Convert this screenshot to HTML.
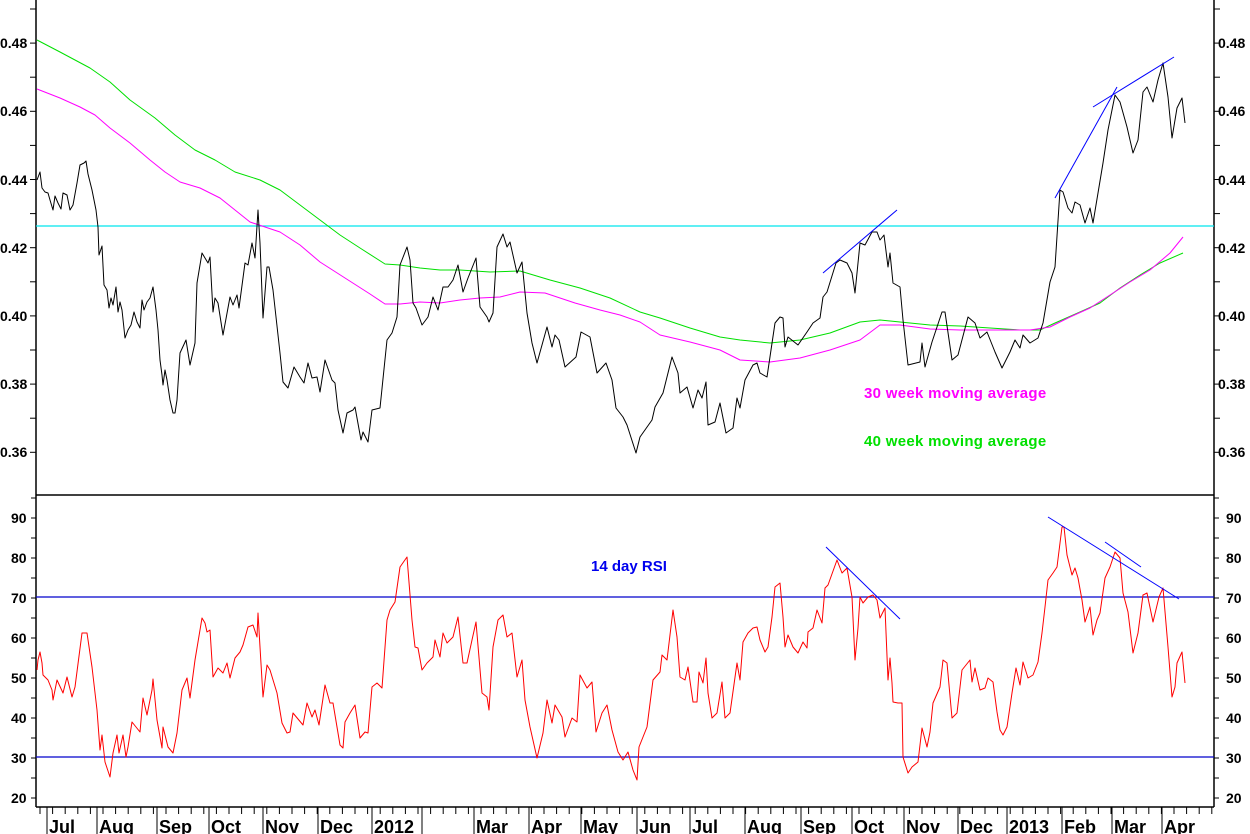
<!DOCTYPE html>
<html><head><meta charset="utf-8"><style>
html,body{margin:0;padding:0;background:#fff;}
svg{display:block;}
text{font-family:"Liberation Sans",Arial,sans-serif;font-weight:bold;}
</style></head><body>
<svg id="s" width="1250" height="834" viewBox="0 0 1250 834" xmlns="http://www.w3.org/2000/svg">
<rect width="1250" height="834" fill="#fff"/>
<g id="g"></g>
</svg>
<script>
const NS="http://www.w3.org/2000/svg";const g=document.getElementById('g');
function el(t,a,txt){const e=document.createElementNS(NS,t);for(const k in a)e.setAttribute(k,a[k]);if(txt!==undefined)e.textContent=txt;g.appendChild(e);return e;}
function line(x1,y1,x2,y2,c,w){el('line',{x1,y1,x2,y2,stroke:c,'stroke-width':w||1});}
function pl(pts,c,w){el('polyline',{points:pts.map(p=>p.join(',')).join(' '),fill:'none',stroke:c,'stroke-width':w||1,'stroke-linejoin':'round'});}
line(36,0,36,807,'#000',1.5);line(1214,0,1214,807,'#000',1.5);
line(36,495,1214,495,'#000',1.5);line(36,807,1214,807,'#000',1.5);
const tl=[[0.48,43],[0.46,111],[0.44,180],[0.42,248],[0.40,316],[0.38,384],[0.36,452]];
for(let v=0;v<14;v++){const y=9+v*34.1;if(y>492)break;line(30,y,36,y,'#000');line(1214,y,1220,y,'#000');}
tl.forEach(([v,y])=>{el('text',{x:0,y:y+5,'font-size':14},v.toFixed(2));el('text',{x:1218,y:y+5,'font-size':14},v.toFixed(2));});
for(let v=20;v<=95;v+=5){const y=798-(v-20)*4;line(31,y,36,y,'#000');line(1214,y,1219,y,'#000');}
for(let v=20;v<=90;v+=10){const y=798-(v-20)*4;el('text',{x:11,y:y+5,'font-size':14},v);el('text',{x:1226,y:y+5,'font-size':14},v);}
const months=[[47,'Jul'],[97,'Aug'],[157,'Sep'],[209,'Oct'],[263,'Nov'],[318,'Dec'],[372,'2012'],[422,''],[474,'Mar'],[529,'Apr'],[581,'May'],[637,'Jun'],[690,'Jul'],[745,'Aug'],[801,'Sep'],[852,'Oct'],[904,'Nov'],[958,'Dec'],[1007,'2013'],[1062,'Feb'],[1112,'Mar'],[1162,'Apr']];
for(let x=40;x<1214;x+=12.6){line(x,807,x,814,'#000');}
months.forEach(([x,t])=>{line(x,807,x,834,'#000');if(t)el('text',{x:x+2,y:833,'font-size':18},t);});
line(36,226,1214,226,'#00e5ee',1.2);
line(36,597,1214,597,'#0000cc',1.3);line(36,757,1214,757,'#0000cc',1.3);
pl([[37,40],[60,52],[90,68],[110,82],[130,100],[155,118],[175,135],[195,150],[215,160],[235,172],[260,180],[280,190],[300,205],[320,220],[340,235],[360,248],[385,264],[400,265],[420,268],[440,270],[460,270],[490,272],[520,271],[550,280],[580,288],[610,298],[640,312],[660,318],[690,328],[720,337],[740,340],[770,343],[800,340],[830,333],[860,322],[880,320],[900,322],[930,325],[960,326],[990,328],[1020,330],[1040,330],[1055,323],[1080,312],[1100,303],[1120,288],[1140,275],[1160,263],[1183,253]],'#00e000');
pl([[37,89],[60,98],[80,107],[95,115],[110,128],[130,143],[150,160],[165,172],[180,182],[200,188],[220,198],[235,210],[250,222],[262,226],[280,232],[300,245],[320,262],[345,278],[370,294],[385,304],[400,304],[420,302],[440,303],[460,300],[480,298],[500,297],[520,292],[545,293],[575,303],[600,310],[620,315],[640,322],[660,335],[690,342],[720,350],[740,360],[770,362],[800,358],[830,350],[860,340],[880,325],[900,325],[930,329],[960,330],[990,330],[1030,330],[1050,327],[1070,317],[1090,308],[1110,295],[1130,282],[1150,270],[1170,253],[1183,237]],'#ff00ff');
pl([[37,180],[40,172],[42,188],[45,192],[48,193],[50,200],[53,210],[55,196],[58,203],[61,209],[63,193],[67,195],[70,210],[73,205],[77,183],[80,165],[84,163],[86,161],[88,174],[92,190],[96,210],[98,227],[99,255],[102,246],[104,285],[107,290],[109,308],[111,298],[113,305],[116,287],[118,312],[120,302],[122,310],[125,338],[128,330],[131,325],[134,312],[137,322],[140,328],[142,300],[144,310],[147,302],[150,298],[153,287],[156,310],[158,330],[160,360],[162,375],[163,385],[165,370],[167,380],[170,400],[173,413],[175,413],[177,400],[180,353],[186,340],[190,365],[195,343],[197,283],[202,253],[208,263],[210,257],[213,312],[215,298],[218,303],[223,335],[230,297],[233,305],[237,295],[239,308],[245,263],[248,265],[252,243],[255,258],[258,210],[260,243],[263,318],[267,267],[269,267],[273,290],[280,353],[283,382],[288,388],[294,367],[300,377],[304,383],[308,363],[312,378],[317,377],[320,392],[325,360],[332,380],[335,383],[338,410],[343,433],[347,413],[353,410],[355,407],[361,440],[363,432],[368,442],[372,410],[380,408],[387,340],[392,333],[397,317],[400,265],[407,247],[410,260],[413,303],[416,308],[422,325],[428,317],[433,297],[438,310],[443,287],[448,287],[453,280],[458,265],[463,292],[468,278],[476,258],[480,307],[487,317],[489,322],[493,313],[497,247],[503,234],[507,247],[510,242],[517,273],[522,262],[527,313],[532,343],[537,363],[547,327],[552,347],[555,335],[559,340],[565,367],[576,357],[581,332],[590,337],[597,373],[606,363],[612,380],[616,408],[623,417],[627,425],[636,453],[640,437],[652,420],[655,407],[663,393],[672,357],[678,373],[680,393],[687,387],[693,408],[698,390],[702,398],[706,382],[708,425],[715,422],[720,403],[726,433],[733,428],[737,398],[740,408],[745,380],[753,365],[757,363],[760,373],[767,377],[775,323],[780,317],[783,318],[785,347],[788,337],[798,345],[807,332],[813,323],[820,318],[823,297],[827,292],[836,263],[840,260],[847,263],[852,273],[855,293],[860,243],[865,245],[872,232],[877,232],[880,240],[884,235],[888,267],[890,253],[893,283],[900,287],[903,320],[908,365],[920,362],[922,343],[925,367],[932,342],[942,312],[945,312],[952,360],[958,355],[968,317],[975,323],[980,338],[987,332],[995,352],[1002,368],[1010,352],[1015,340],[1020,348],[1023,335],[1030,343],[1038,338],[1043,323],[1050,282],[1055,267],[1060,190],[1063,192],[1068,208],[1072,213],[1075,202],[1080,205],[1085,223],[1090,208],[1093,223],[1098,193],[1103,163],[1108,130],[1115,95],[1120,102],[1127,127],[1133,153],[1138,140],[1143,92],[1147,87],[1153,102],[1158,80],[1163,63],[1168,97],[1172,138],[1177,108],[1182,98],[1185,123]],'#000');
line(823,273,897,210,'#0000ff');line(1055,198,1117,87,'#0000ff');line(1093,107,1174,57,'#0000ff');
pl([[37,670],[38,660],[40,652],[42,663],[43,675],[48,680],[52,690],[53,700],[57,680],[63,693],[67,677],[72,697],[75,687],[82,633],[87,633],[92,667],[97,710],[100,750],[102,735],[105,762],[110,777],[113,753],[117,735],[119,753],[123,735],[126,757],[128,747],[132,722],[140,732],[143,698],[147,715],[152,690],[153,679],[157,720],[162,748],[163,727],[168,747],[173,753],[177,733],[182,690],[187,678],[190,698],[195,660],[202,618],[205,623],[207,632],[210,630],[213,677],[218,668],[223,673],[227,663],[230,678],[235,658],[240,652],[243,645],[248,627],[253,625],[257,637],[258,613],[260,647],[263,697],[267,665],[270,670],[277,693],[282,723],[287,733],[290,732],[293,713],[303,725],[307,703],[312,717],[315,710],[319,725],[325,685],[330,703],[333,703],[340,745],[343,748],[345,722],[350,713],[355,705],[360,738],[365,732],[368,733],[372,687],[377,683],[382,688],[387,620],[390,610],[395,602],[400,567],[407,557],[412,620],[415,647],[418,648],[422,670],[427,663],[433,657],[435,640],[440,657],[443,633],[447,643],[453,637],[458,617],[463,663],[467,663],[472,640],[476,622],[482,693],[487,697],[489,710],[493,647],[498,620],[503,615],[507,637],[512,633],[517,677],[522,660],[525,700],[530,727],[537,758],[543,733],[547,700],[552,723],[555,705],[562,717],[565,737],[572,718],[577,722],[580,675],[587,688],[592,682],[596,732],[602,713],[607,705],[612,730],[618,752],[623,760],[628,752],[633,770],[637,780],[639,747],[647,727],[653,680],[660,672],[662,655],[667,660],[673,610],[677,637],[680,677],[685,680],[688,667],[693,702],[697,702],[699,672],[703,683],[706,658],[708,693],[712,718],[717,713],[722,682],[725,718],[730,713],[737,663],[740,680],[743,642],[748,633],[753,628],[757,627],[760,640],[765,652],[768,647],[772,617],[775,587],[780,583],[783,617],[785,647],[788,635],[793,647],[798,653],[803,642],[807,648],[808,632],[813,628],[817,610],[822,623],[825,588],[828,585],[837,560],[842,573],[847,568],[852,597],[855,660],[858,628],[860,597],[863,603],[868,597],[873,595],[877,600],[880,618],[885,608],[888,680],[890,658],[892,683],[893,702],[898,703],[902,703],[903,757],[908,773],[912,767],[918,762],[922,728],[927,747],[930,732],[933,703],[940,687],[943,660],[947,663],[952,718],[957,713],[962,670],[970,660],[972,682],[975,668],[980,690],[985,688],[988,678],[993,682],[997,712],[1000,730],[1003,735],[1007,727],[1012,693],[1016,668],[1020,685],[1023,662],[1028,678],[1033,675],[1038,662],[1042,633],[1045,607],[1048,580],[1053,573],[1057,567],[1062,527],[1064,527],[1067,555],[1072,575],[1075,568],[1078,578],[1082,600],[1085,622],[1090,607],[1093,635],[1097,620],[1100,613],[1105,578],[1110,567],[1115,552],[1120,558],[1123,593],[1128,612],[1133,653],[1138,633],[1143,595],[1147,593],[1153,622],[1159,597],[1163,588],[1168,647],[1172,697],[1175,687],[1177,663],[1182,652],[1185,683]],'#ff0000');
line(826,547,900,619,'#0000ff');line(1048,517,1179,599,'#0000ff');line(1105,542,1141,567,'#0000ff');
el('text',{x:864,y:398,'font-size':15,fill:'#ff00ff','letter-spacing':'0.3'},'30 week moving average');
el('text',{x:864,y:446,'font-size':15,fill:'#00e000','letter-spacing':'0.3'},'40 week moving average');
el('text',{x:591,y:571,'font-size':15,fill:'#0000ee'},'14 day RSI');
</script>
</body></html>
